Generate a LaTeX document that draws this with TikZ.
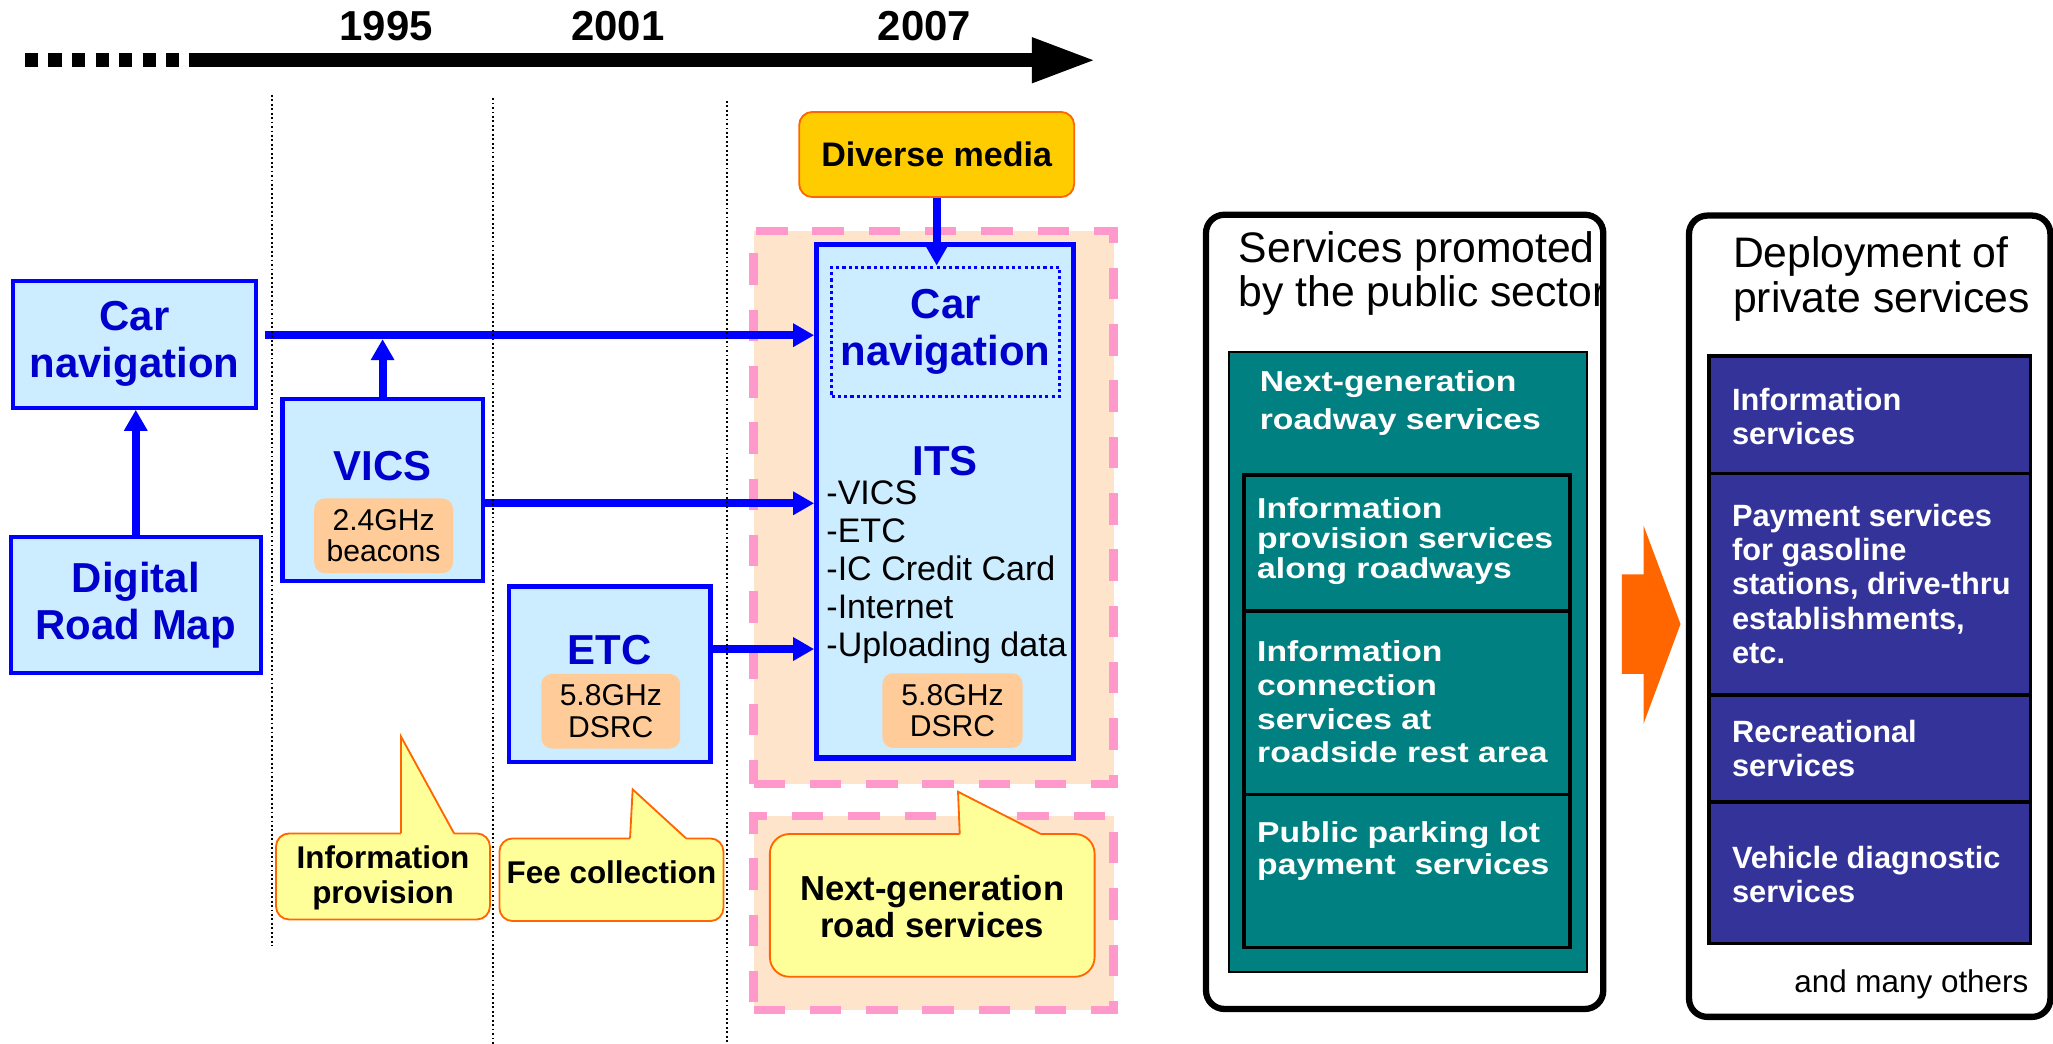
\documentclass[tikz,border=0pt]{standalone}
\usepackage{fontspec}
\setmainfont{Liberation Sans}
\newfontfamily\widefont[FakeStretch=1.17]{Liberation Sans}
\usetikzlibrary{arrows.meta}

\definecolor{boxblue}{HTML}{0000FF}
\definecolor{titleblue}{HTML}{0000CC}
\definecolor{boxfill}{HTML}{CCECFF}
\definecolor{freqfill}{HTML}{FFCC99}
\definecolor{zonefill}{HTML}{FFE4CC}
\definecolor{zonepink}{HTML}{FF99CC}
\definecolor{mediafill}{HTML}{FFCC00}
\definecolor{edgeorange}{HTML}{FF6600}
\definecolor{notefill}{HTML}{FFFF99}
\definecolor{pubteal}{HTML}{008080}
\definecolor{privblue}{HTML}{333399}

\begin{document}
\begin{tikzpicture}[x=0.5pt, y=-0.5pt,
  navbox/.style={draw=boxblue, fill=boxfill, line width=1.6pt, inner sep=0pt,
    text=titleblue, align=center, font=\fontsize{16}{18}\selectfont\bfseries},
  navtitle/.style={text=titleblue, font=\fontsize{16}{18}\selectfont\bfseries},
  freqbox/.style={fill=freqfill, rounded corners=4pt, inner sep=0pt, align=center,
    font=\fontsize{11.5}{12}\selectfont},
  navarrow/.style={draw=boxblue, line width=3pt, -{Triangle[length=8pt,width=8.5pt]}},
  zone/.style={draw=zonepink, fill=zonefill, line width=3.2pt,
    dash pattern=on 12pt off 9.5pt, inner sep=0pt},
  note/.style={draw=edgeorange, fill=notefill, line width=0.7pt, inner sep=0pt},
  notetext/.style={align=center, font=\fontsize{12}{13.5}\selectfont\bfseries},
  panel/.style={draw=black, line width=2.4pt, rounded corners=7pt, inner sep=0pt},
  paneltitle/.style={anchor=west, align=left, inner sep=0pt, font=\fontsize{16.3}{17}\selectfont},
  pubtext/.style={text=white, align=left, inner sep=0pt, anchor=west,
    font=\widefont\bfseries\fontsize{11}{#1}\selectfont},
  pubtext/.default=12.5,
  privtext/.style={text=white, align=left, inner sep=0pt, anchor=west,
    font=\bfseries\fontsize{11.75}{13}\selectfont},
]
 \def\u{0.5pt}
 \useasboundingbox (0,0) rectangle (1568,797);

%timeline
 \coordinate (t0) at (19,46);
 \coordinate (t1) at (144,46);
 \coordinate (t2) at (837,46);
 \draw[line width=5.25pt, dash pattern=on 5pt off 4pt] (t0) -- (t1);
 \draw[line width=5.25pt, -{Triangle[length=24.5pt,width=16pt]}] (t1) -- (t2);
    \foreach \x/\yr in {295/1995, 472/2001, 706/2007}{
         \node[font=\fontsize{16}{18}\selectfont\bfseries] (y\yr) at (\x,20) {\yr};
    }

%left boxes
 \node[navbox, minimum width=186*\u, minimum height=97*\u] (carnav) at (102.7,262.9) {Car\\navigation};
 \node[navbox, minimum width=191*\u, minimum height=104*\u] (drm) at (103.7,461.9) {Digital\\Road Map};
 \node[navbox, minimum width=153*\u, minimum height=139*\u] (vics) at (292.2,374.4) {};
 \node[navtitle] (vicst) at (292.2,356) {VICS};
 \node[freqbox, minimum width=106*\u, minimum height=57*\u] (vicsf) at (293,409.2) {2.4GHz\\beacons};
 \node[navbox, minimum width=154*\u, minimum height=134*\u] (etc) at (465.7,514.9) {};
 \node[navtitle] (etct) at (465.7,496.5) {ETC};
 \node[freqbox, minimum width=106*\u, minimum height=57*\u] (etcf) at (466.5,543.2) {5.8GHz\\DSRC};

%ITS
 \node[zone, minimum width=275*\u, minimum height=422*\u] (zone1) at (713,387.6) {};
 \node[zone, minimum width=275*\u, minimum height=148.4*\u] (zone2) at (713,697.2) {};
 \node[navbox, line width=2pt, minimum width=196*\u, minimum height=392*\u] (its) at (721.8,383) {};
 \node[navbox, fill=none, line width=1.2pt, dash pattern=on 1.2pt off 1.2pt,
       minimum width=174.3*\u, minimum height=98.8*\u] (itsnav) at (722.3,253.4) {Car\\navigation};
 \node[navtitle] (itst) at (722,352) {ITS};
 \node[anchor=west, align=left, inner sep=0pt, font=\fontsize{13}{14.5}\selectfont] (itslist) at (630.8,437)
       {-VICS\\-ETC\\-IC Credit Card\\-Internet\\-Uploading data};
 \node[freqbox, minimum width=107*\u, minimum height=57*\u] (itsf) at (727.5,542.7) {5.8GHz\\DSRC};
 \node[draw=edgeorange, fill=mediafill, line width=0.7pt, rounded corners=5pt,
       minimum width=210*\u, minimum height=65*\u, font=\fontsize{13}{15}\selectfont\bfseries] (media) at (715.4,118) {Diverse media};

%arrows
 \coordinate (navout) at ([xshift=2.4pt,yshift=3.45pt]carnav.east);
 \coordinate (vicsout) at ([yshift=-5pt]vics.east);
 \coordinate (etcout) at ([yshift=9.6pt]etc.east);
 \draw[navarrow] (drm.north) -- (drm.north |- carnav.south);
 \draw[navarrow] (navout) -- (navout -| its.west);
 \draw[navarrow, shorten >=1.5pt] (vics.north) -- (vics.north |- navout);
 \draw[navarrow] (vicsout) -- (vicsout -| its.west);
 \draw[navarrow] (etcout) -- (etcout -| its.west);
 \draw[navarrow] (media.south) -- (media.south |- itsnav.north);

%callouts
 \node[note, rounded corners=5pt, minimum width=163.4*\u, minimum height=65.7*\u] (infoc) at (292.5,669.4) {};
 \node[note, rounded corners=5pt, minimum width=171.1*\u, minimum height=63.1*\u] (feec) at (467,671.9) {};
 \node[note, rounded corners=7.5pt, minimum width=248*\u, minimum height=109*\u] (nextc) at (712,691.5) {};
    \foreach \bx/\by/\tx/\ty/\ex in {306.3/636.5/306.3/562.6/346.8, 481.2/640.3/483.2/602.9/524, 733/637/731.7/604.7/795}{
         \fill[notefill] (\bx,\by+3) -- (\bx,\by) -- (\tx,\ty) -- (\ex,\by) -- (\ex,\by+3) -- cycle;
         \draw[edgeorange, line width=0.7pt] (\bx,\by) -- (\tx,\ty) -- (\ex,\by);
    }
 \node[notetext] (infot) at (292.5,670.5) {Information\\provision};
 \node[notetext] (feet) at (467,666.5) {Fee collection};
 \node[notetext, font=\fontsize{13.25}{14}\selectfont\bfseries] (nextt) at (712,692.5) {Next-generation\\road services};

%public sector
 \node[panel, minimum width=303.4*\u, minimum height=606.6*\u] (pub) at (1072.8,467.3) {};
 \begin{scope}
   \clip (pub.south west) rectangle ([xshift=-1.2pt]pub.north east);
   \node[paneltitle] (pubtitle) at (945.8,209) {Services promoted\\by the public sector};
 \end{scope}
 \node[draw=black, fill=pubteal, line width=0.8pt, inner sep=0pt,
       minimum width=272.9*\u, minimum height=473.9*\u] (pubbase) at (1075.35,505.65) {};
    \foreach \ya/\yb/\name in {362.7/466.7/pubrow1, 466.7/606.6/pubrow2, 606.6/723.7/pubrow3}{
         \node[draw=black, fill=pubteal, line width=1.3pt, inner sep=0pt,
               minimum width=249*\u, minimum height={(\yb-\ya)*\u}] (\name) at (1074.6,{(\ya+\yb)/2}) {};
    }
 \node[pubtext=14.6] (pubt0) at (961.8,308.1) {Next-generation\\roadway services};
 \node[pubtext=11.3] (pubt1) at (959.8,413.3) {Information\\provision services\\along roadways};
 \node[pubtext=12.85] (pubt2) at (959.8,536.1) {Information\\connection\\services at\\roadside rest area};
 \node[pubtext=12] (pubt3) at (959.8,650) {Public parking lot\\payment\ \ services};

%big arrow
 \fill[edgeorange] (1238.7,438.6) -- (1255.3,438.6) -- (1255.3,401.5) -- (1283.5,476.6)
      -- (1255.3,552.7) -- (1255.3,514.6) -- (1238.7,514.6) -- cycle;

%private
 \node[panel, minimum width=276*\u, minimum height=612*\u] (priv) at (1428,470.65) {};
 \node[paneltitle] (privtitle) at (1323.3,213) {Deployment of\\private services};
    \foreach \ya/\yb/\name in {271.9/361.5/privrow1, 361.5/530.7/privrow2, 530.7/612.6/privrow3, 612.6/720.6/privrow4}{
         \node[draw=black, fill=privblue, line width=1.3pt, inner sep=0pt,
               minimum width=245.5*\u, minimum height={(\yb-\ya)*\u}] (\name) at (1428.05,{(\ya+\yb)/2}) {};
    }
 \node[privtext] (privt1) at (1322.5,317.8) {Information\\services};
 \node[privtext] (privt2) at (1322.5,446) {Payment services\\for gasoline\\stations, drive-thru\\establishments,\\etc.};
 \node[privtext] (privt3) at (1322.5,571.6) {Recreational\\services};
 \node[privtext] (privt4) at (1322.5,667.6) {Vehicle diagnostic\\services};
 \node[anchor=east, inner sep=0pt, font=\fontsize{12}{14}\selectfont] (others) at (1549.6,752) {and many others};

%year lines
    \foreach \x/\ya/\yb in {207.5/72.5/722.5, 376.8/75/797, 555/77/797}{
         \draw[densely dotted, line width=0.7pt] (\x,\ya) -- (\x,\yb);
    }

\end{tikzpicture}
\end{document}
